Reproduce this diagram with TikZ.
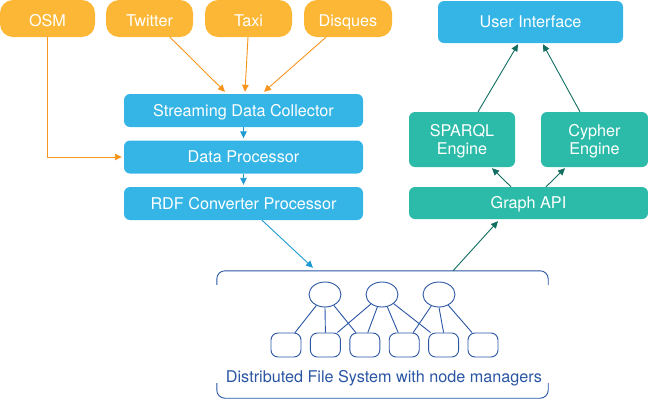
\documentclass[tikz,border=0pt]{standalone}
\usepackage{fontspec}
\setmainfont{TeX Gyre Heros}
\usepackage{tikz}
\usetikzlibrary{arrows.meta, shapes.geometric}

\definecolor{srcorange}{HTML}{FBB735}
\definecolor{arrorange}{HTML}{F7941D}
\definecolor{boxblue}{HTML}{35B5E5}
\definecolor{arrblue}{HTML}{1E9BD2}
\definecolor{boxteal}{HTML}{2CBBA8}
\definecolor{arrteal}{HTML}{126E60}
\definecolor{dfsblue}{HTML}{2A55A3}

\begin{document}
\begin{tikzpicture}[x=1pt, y=-1pt,
  lbl/.style={text=white, inner sep=0pt, align=center, font=\fontsize{16.2}{18}\selectfont},
  src/.style={lbl, fill=srcorange, rounded corners=13pt, minimum width=87pt, minimum height=37pt, text height=16.4pt, text depth=0pt},
  stage/.style={lbl, fill=boxblue, rounded corners=6pt, minimum width=239pt, minimum height=33pt, text height=11.8pt, text depth=0pt},
  engine/.style={lbl, fill=boxteal, rounded corners=6pt, minimum width=106pt, minimum height=55pt, text depth=0pt},
  tip/.style={-{Triangle[length=7pt,width=6.5pt]}, line width=0.9pt},
  dfsline/.style={draw=dfsblue, line width=0.9pt},
  mgr/.style={dfsline, ellipse, minimum width=32pt, minimum height=25pt, inner sep=0pt},
  disk/.style={dfsline, rounded corners=7pt, minimum width=30pt, minimum height=24pt, inner sep=0pt}]
\useasboundingbox (0,0) rectangle (648,400);

% sources
\node[src, minimum width=95pt] (osm) at (47.5,18.5) {OSM};
\node[src] (twitter) at (149.5,18.5) {Twitter};
\node[src] (taxi) at (248.5,18.5) {Taxi};
\node[src, minimum width=88pt] (disques) at (348,18.5) {Disques};

% pipeline
\node[stage] (collector) at (243.5,110.5) {Streaming Data Collector};
\node[stage] (proc) at (243.5,157) {Data Processor};
\node[stage] (rdf) at (243.5,203.5) {RDF Converter Processor};

% query side
\node[stage, minimum width=185pt, minimum height=42pt] (ui) at (530.5,22) {User Interface};
\node[engine] (sparql) at (462,139.5) {SPARQL\\Engine};
\node[engine, minimum width=107pt] (cypher) at (594.5,139.5) {Cypher\\Engine};
\node[stage, fill=boxteal, minimum height=32pt] (graph) at (528.5,203) {Graph API};

% file system
\node[minimum width=331pt, minimum height=127pt, inner sep=0pt] (dfs) at (382.5,334.5) {};
\draw[dfsline, rounded corners=8pt] ([yshift=-14pt]dfs.north west) -- (dfs.north west) -- (dfs.north east) -- ([yshift=-14pt]dfs.north east);
\draw[dfsline, rounded corners=8pt] ([yshift=15pt]dfs.south west) -- (dfs.south west) -- (dfs.south east) -- ([yshift=15pt]dfs.south east);
\node[text=dfsblue, inner sep=0pt, text height=11.8pt, text depth=0pt, font=\fontsize{16.2}{18}\selectfont] (dfslabel) at (384,377) {Distributed File System with node managers};

\node[mgr] (m1) at (325,294.5) {};
\node[mgr] (m2) at (382,294.5) {};
\node[mgr] (m3) at (439,294.5) {};
\node[disk] (d1) at (286,345) {};
\node[disk] (d2) at (325.4,345) {};
\node[disk] (d3) at (364.8,345) {};
\node[disk] (d4) at (404.2,345) {};
\node[disk] (d5) at (443.6,345) {};
\node[disk] (d6) at (483,345) {};

\draw[dfsline] (m1) -- ([xshift=9pt]d1.north);
\draw[dfsline] (m1.south) -- (d2.north);
\draw[dfsline] (m1) -- ([xshift=-9pt]d3.north);
\draw[dfsline] (m2) -- ([xshift=12pt]d2.north);
\draw[dfsline] (m2) -- ([xshift=3pt]d3.north);
\draw[dfsline] (m2) -- ([xshift=-6pt]d4.north);
\draw[dfsline] (m2) -- ([xshift=-13pt]d5.north);
\draw[dfsline] (m3) -- ([xshift=9pt]d4.north);
\draw[dfsline] (m3.south) -- (d5.north);
\draw[dfsline] (m3) -- ([xshift=-11pt]d6.north);

% arrows
\draw[tip, arrorange] ([xshift=20.5pt]twitter.south) -- ([xshift=-18.5pt,yshift=2pt]collector.north);
\draw[tip, arrorange] ([xshift=-0.5pt]taxi.south) -- ([xshift=1.5pt,yshift=2pt]collector.north);
\draw[tip, arrorange] ([xshift=-22pt]disques.south) -- ([xshift=20.5pt,yshift=2pt]collector.north);
\draw[tip, arrorange] (osm.south) |- ([xshift=-2pt]proc.west);
\draw[tip, arrblue] (collector.south) -- ([yshift=2pt]proc.north);
\draw[tip, arrblue] (proc.south) -- ([yshift=2pt]rdf.north);
\draw[tip, arrblue] ([xshift=18.5pt]rdf.south) -- ([xshift=-69.5pt,yshift=3pt]dfs.north);
\draw[tip, arrteal] ([xshift=70.5pt]dfs.north) -- ([xshift=-30.5pt,yshift=-2pt]graph.south);
\draw[tip, arrteal] ([xshift=-17.5pt]graph.north) -- ([xshift=30pt,yshift=-1pt]sparql.south);
\draw[tip, arrteal] ([xshift=17.5pt]graph.north) -- ([xshift=-29.5pt,yshift=-1pt]cypher.south);
\draw[tip, arrteal] ([xshift=16pt]sparql.north) -- ([xshift=-12.5pt,yshift=-1pt]ui.south);
\draw[tip, arrteal] ([xshift=-14.5pt]cypher.north) -- ([xshift=12.5pt,yshift=-1pt]ui.south);
\end{tikzpicture}
\end{document}
